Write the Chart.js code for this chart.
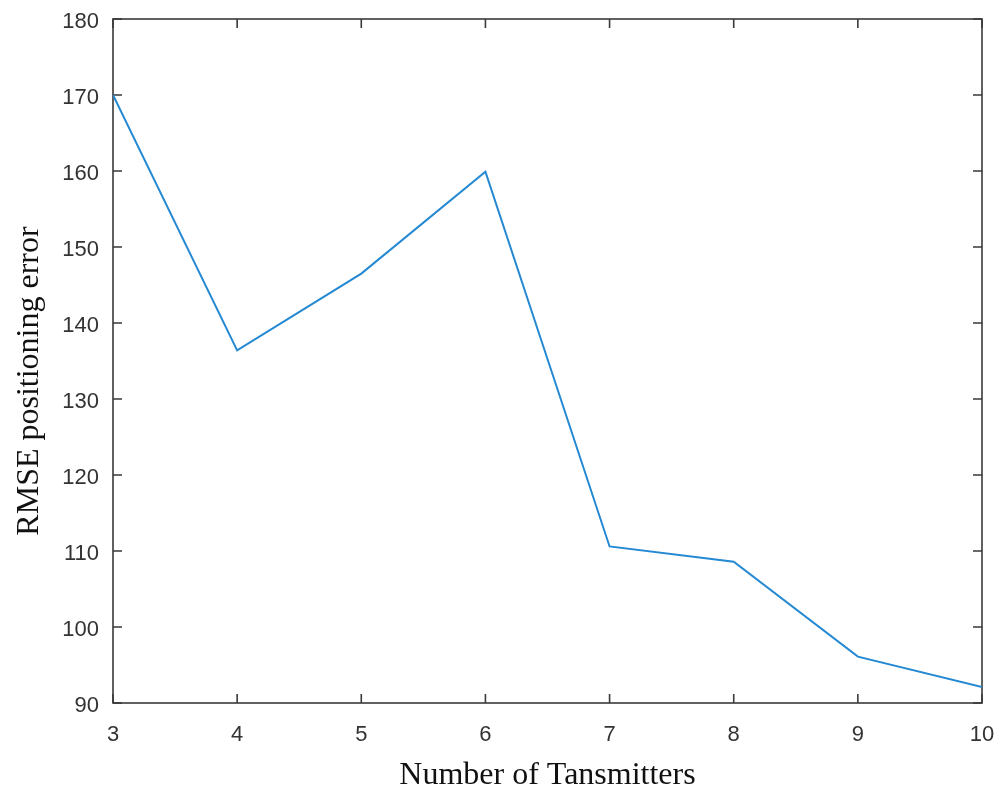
<!DOCTYPE html>
<html>
<head>
<meta charset="utf-8">
<script src="https://cdn.jsdelivr.net/npm/chart.js@4/dist/chart.umd.min.js"></script>
<style>
  html, body { margin: 0; padding: 0; background: #fff; }
  #wrap { width: 1001px; height: 792px; }
</style>
</head>
<body>
<div id="wrap"><canvas id="chart"></canvas></div>
<script>
const transmitters = [3, 4, 5, 6, 7, 8, 9, 10];
const rmseError = [170.0, 136.4, 146.5, 159.9, 110.6, 108.6, 96.1, 92.1];
const yTicks = [90, 100, 110, 120, 130, 140, 150, 160, 170, 180];
const xTicks = [3, 4, 5, 6, 7, 8, 9, 10];

const axisColor = '#3a3a3a';
const textColor = '#333';

// box round the plot with short ticks pointing inward on all four sides
const boxPlugin = {
    id: 'box',
    beforeDatasetsDraw(chart) {
        const { ctx, chartArea: a, scales } = chart;
        const tick = 9;
        ctx.save();
        ctx.strokeStyle = axisColor;
        ctx.lineWidth = 1.6;
        ctx.strokeRect(a.left, a.top, a.right - a.left, a.bottom - a.top);
        ctx.beginPath();
        xTicks.forEach(v => {
            const x = scales.x.getPixelForValue(v);
            ctx.moveTo(x, a.bottom); ctx.lineTo(x, a.bottom - tick);
            ctx.moveTo(x, a.top); ctx.lineTo(x, a.top + tick);
        });
        yTicks.forEach(v => {
            const y = scales.y.getPixelForValue(v);
            ctx.moveTo(a.left, y); ctx.lineTo(a.left + tick, y);
            ctx.moveTo(a.right, y); ctx.lineTo(a.right - tick, y);
        });
        ctx.stroke();
        ctx.restore();
    }
};

new Chart(document.getElementById('chart').getContext('2d'), {
    type: 'line',
    data: {
        labels: transmitters,
        datasets: [{
            data: transmitters.map((x, i) => ({ x: x, y: rmseError[i] })),
            borderColor: '#2489d2',
            borderWidth: 2,
            pointRadius: 0,
            tension: 0,
            fill: false
        }]
    },
    options: {
        responsive: true,
        maintainAspectRatio: false,
        animation: false,
        layout: { padding: { top: 19, right: 19, left: 0, bottom: 0 } },
        plugins: {
            legend: { display: false },
            tooltip: { enabled: false }
        },
        scales: {
            x: {
                type: 'linear',
                min: 3,
                max: 10,
                afterFit: s => {
                    s.height = 89;
                    s.paddingLeft = 0;
                    s.paddingRight = 0;
                },
                afterBuildTicks: s => { s.ticks = xTicks.map(v => ({ value: v })); },
                grid: { display: false, drawTicks: false },
                border: { display: false },
                ticks: {
                    color: textColor,
                    padding: 19,
                    maxRotation: 0,
                    font: { family: '"Liberation Sans", Arial, sans-serif', size: 22 }
                },
                title: {
                    display: true,
                    text: 'Number of Tansmitters',
                    color: '#111',
                    padding: { top: 0, bottom: -3 },
                    font: { family: '"Liberation Serif", "Times New Roman", serif', size: 32 }
                }
            },
            y: {
                min: 90,
                max: 180,
                afterFit: s => {
                    s.width = 113;
                    s.paddingTop = 0;
                    s.paddingBottom = 0;
                },
                afterBuildTicks: s => { s.ticks = yTicks.map(v => ({ value: v })); },
                grid: { display: false, drawTicks: false },
                border: { display: false },
                ticks: {
                    color: textColor,
                    padding: 14,
                    labelOffset: 3,
                    font: { family: '"Liberation Sans", Arial, sans-serif', size: 22 }
                },
                title: {
                    display: true,
                    text: 'RMSE positioning error     ',
                    color: '#111',
                    padding: { top: 10, bottom: 0 },
                    font: { family: '"Liberation Serif", "Times New Roman", serif', size: 32 }
                }
            }
        }
    },
    plugins: [boxPlugin]
});
</script>
</body>
</html>
